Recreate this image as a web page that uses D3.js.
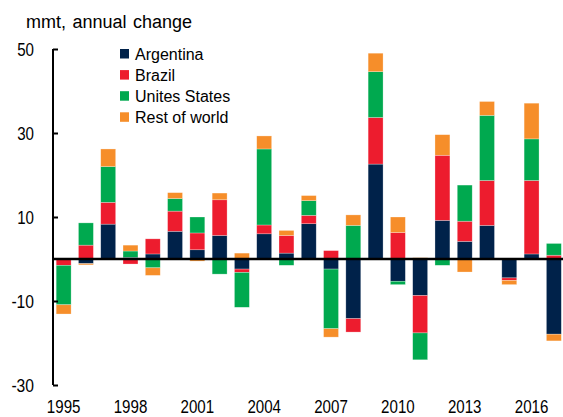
<!DOCTYPE html>
<html>
<head>
<meta charset="utf-8">
<script src="https://cdn.jsdelivr.net/npm/d3@7"></script>
<style>
  body { margin: 0; background: #fff; }
  text { font-family: "Liberation Sans", Arial, sans-serif; fill: #000; }
  .tick-lab { font-size: 18px; }
</style>
</head>
<body>
<svg width="563" height="417"></svg>
<script>
var years = d3.range(1995, 2018);
var argentina = [0, -1.1, 8.3, 0.4, 1.2, 6.6, 2.2, 5.6, -2.4, 6.0, 1.4, 8.4, -2.4, -14.2, 22.6, -5.3, -8.7, 9.2, 4.2, 8.0, -4.5, 1.2, -17.9];
var brazil    = [-1.5, 3.3, 5.2, -1.2, 3.6, 4.8, 4.0, 8.5, -0.8, 2.1, 4.2, 2.0, 2.0, -3.2, 11.1, 6.3, -8.9, 15.5, 4.8, 10.7, -0.6, 17.5, 0.9];
var us        = [-9.4, 5.3, 8.5, 1.5, -2.1, 3.0, 3.8, -3.6, -8.3, 18.1, -1.5, 3.5, -14.2, 8.0, 10.9, -0.8, -6.4, -1.5, 8.6, 15.5, 0, 9.9, 2.8];
var rest      = [-2.2, -0.3, 4.2, 1.4, -1.8, 1.4, -0.5, 1.6, 1.4, 3.1, 1.2, 1.2, -2.0, 2.5, 4.4, 3.7, 0.3, 4.9, -3.1, 3.3, -1.0, 8.5, -1.6];
var seriesNames = ["Argentina", "Brazil", "Unites States", "Rest of world"];
var yTicks = [-30, -10, 10, 30, 50];
var xTicks = [1995, 1998, 2001, 2004, 2007, 2010, 2013, 2016];

var colors = ["#00224a", "#ed1c2e", "#00a94f", "#f68e2a"];

var svg = d3.select("svg");

// rows for the stack
var rows = years.map((yr, i) => ({
  year: yr,
  "Argentina": argentina[i],
  "Brazil": brazil[i],
  "Unites States": us[i],
  "Rest of world": rest[i]
}));

var stack = d3.stack()
    .keys(seriesNames)
    .offset(d3.stackOffsetDiverging);
var layers = stack(rows);

var x = d3.scaleBand()
    .domain(years)
    .range([52.5, 565])
    .paddingInner(0.33)
    .paddingOuter(0.165);

var y = d3.scaleLinear()
    .domain([-30, 50])
    .range([385, 49]);

// narrow-looking numbers: squeeze glyphs to the reference width
function narrowLen(s) {
  s = String(s);
  return s.replace(/-/g, "").length * 8.4 + (s.indexOf("-") >= 0 ? 5.8 : 0);
}

// bars
svg.append("g")
  .selectAll("g")
  .data(layers)
  .enter().append("g")
    .attr("fill", (d, i) => colors[i])
  .selectAll("rect")
  .data(d => d)
  .enter().append("rect")
    .attr("x", d => x(d.data.year))
    .attr("width", x.bandwidth())
    .attr("y", d => y(Math.max(d[0], d[1])))
    .attr("height", d => Math.abs(y(d[0]) - y(d[1])))
    .attr("stroke", "#fff")
    .attr("stroke-opacity", 0.45)
    .attr("stroke-width", 0.6);

// y axis
var yAxis = d3.axisRight(y)
    .tickValues(yTicks)
    .tickSize(5)
    .tickFormat("");
var ya = svg.append("g")
    .attr("transform", "translate(53,0)")
    .call(yAxis);
ya.select(".domain").attr("stroke", "#000").attr("stroke-width", 2)
    .attr("d", "M0," + y(-30) + "V" + y(50));
ya.selectAll(".tick line").attr("stroke", "#000").attr("stroke-width", 2);

svg.append("g").selectAll("text")
  .data(yTicks)
  .enter().append("text")
    .attr("class", "tick-lab")
    .attr("x", 34)
    .attr("y", d => y(d) + 6.5)
    .attr("text-anchor", "end")
    .attr("textLength", d => narrowLen(d))
    .attr("lengthAdjust", "spacingAndGlyphs")
    .text(d => d);

// zero line
svg.append("line")
    .attr("x1", 53).attr("x2", 563)
    .attr("y1", y(0)).attr("y2", y(0))
    .attr("stroke", "#000")
    .attr("stroke-width", 2.5);

// x labels
svg.append("g").selectAll("text")
  .data(xTicks)
  .enter().append("text")
    .attr("class", "tick-lab")
    .attr("x", d => x(d) + x.bandwidth() / 2)
    .attr("y", 413)
    .attr("text-anchor", "middle")
    .attr("textLength", d => narrowLen(d))
    .attr("lengthAdjust", "spacingAndGlyphs")
    .text(d => d);

// title
svg.append("text")
    .attr("x", 26)
    .attr("y", 28)
    .style("font-size", "18px")
    .style("word-spacing", "1.5px")
    .text("mmt, annual change");

// legend
var leg = svg.append("g").selectAll("g")
  .data(seriesNames)
  .enter().append("g")
    .attr("transform", (d, i) => "translate(120," + (60 + i * 21.1) + ")");
leg.append("rect")
    .attr("x", 0).attr("y", -11)
    .attr("width", 9).attr("height", 9.5)
    .attr("fill", (d, i) => colors[i]);
leg.append("text")
    .attr("x", 15)
    .attr("y", 0)
    .style("font-size", "16px")
    .text(d => d);
</script>
</body>
</html>
